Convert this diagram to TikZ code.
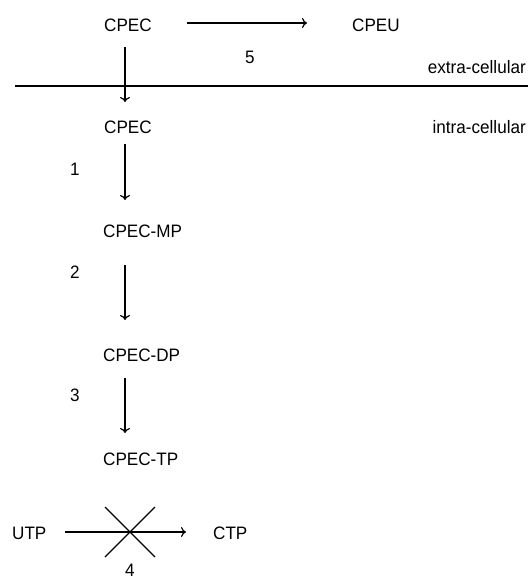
\documentclass[tikz,border=0pt]{standalone}
\usepackage{fontspec}
\setmainfont{Liberation Sans}[FakeStretch=0.95]
\usetikzlibrary{arrows.meta}
\begin{document}
\begin{tikzpicture}[x=1pt,y=-1pt,
  lbl/.style={inner sep=0pt,font=\fontsize{18}{20}\selectfont},
  conn/.style={line width=1.2pt,-{To[length=5pt,width=10pt]}},
  plain/.style={line width=1.2pt}]
\useasboundingbox (0,0) rectangle (528,579);
% texts
\node[lbl,anchor=west] (cpecA) at (104,25) {CPEC};
\node[lbl,anchor=west] (cpeu) at (352,25) {CPEU};
\node[lbl] (n5) at (250,57) {5};
\node[lbl,anchor=east] (extra) at (526,67) {extra-cellular};
\node[lbl,anchor=west] (cpecB) at (104,127) {CPEC};
\node[lbl,anchor=east] (intra) at (526,127) {intra-cellular};
\node[lbl] (n1) at (75,169) {1};
\node[lbl,anchor=west] (mp) at (103,231) {CPEC-MP};
\node[lbl] (n2) at (75,272) {2};
\node[lbl,anchor=west] (dp) at (103,355) {CPEC-DP};
\node[lbl] (n3) at (75,395) {3};
\node[lbl,anchor=west] (tp) at (103,459) {CPEC-TP};
\node[lbl,anchor=west] (utp) at (12,533) {UTP};
\node[lbl,anchor=west] (ctp) at (213,533) {CTP};
\node[lbl] (n4) at (130,570) {4};
% membrane
\coordinate (memL) at (15,86);
\coordinate (memR) at (528,86);
\draw[plain] (memL) -- (memR);
% arrow coordinates
\coordinate (a5s) at (187,23); \coordinate (a5e) at (307,23);
\coordinate (a0s) at (125,47); \coordinate (a0e) at (125,102);
\coordinate (a1s) at (125,144); \coordinate (a1e) at (125,200);
\coordinate (a2s) at (125,265); \coordinate (a2e) at (125,320);
\coordinate (a3s) at (125,378); \coordinate (a3e) at (125,433);
\coordinate (a4s) at (65,532); \coordinate (a4e) at (186,532);
\draw[conn] (a5s) -- (a5e);
\draw[conn] (a0s) -- (a0e);
\draw[conn] (a1s) -- (a1e);
\draw[conn] (a2s) -- (a2e);
\draw[conn] (a3s) -- (a3e);
\draw[conn] (a4s) -- (a4e);
% cross
\coordinate (xa) at (105,507); \coordinate (xb) at (155,557);
\coordinate (xc) at (155,507); \coordinate (xd) at (105,557);
\draw[plain] (xa) -- (xb);
\draw[plain] (xc) -- (xd);
\end{tikzpicture}
\end{document}
